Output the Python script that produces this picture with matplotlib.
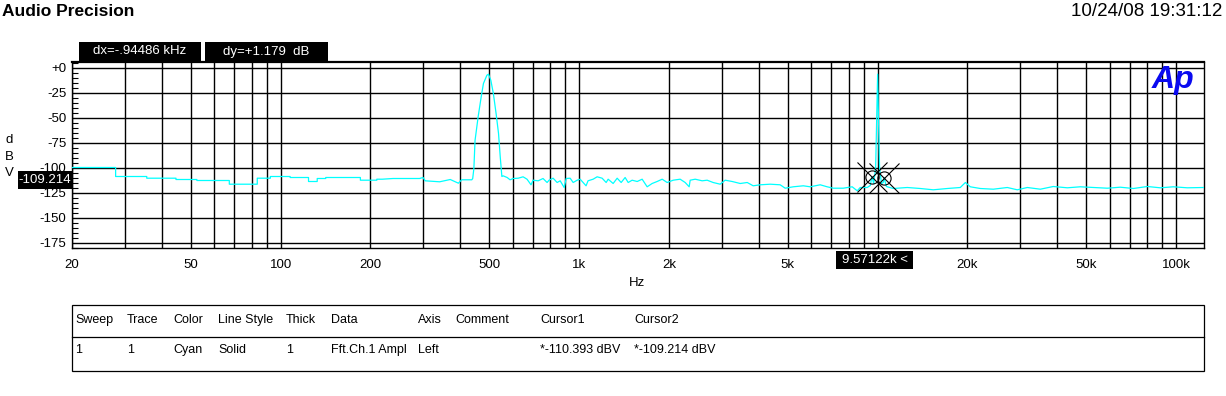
import matplotlib.pyplot as plt
from matplotlib.patches import Rectangle
from matplotlib.lines import Line2D
from matplotlib.ticker import FixedLocator, LogLocator, MultipleLocator, NullFormatter

# FFT trace (Hz, dBV)
freq_hz = [20, 28, 28, 35.6, 35.6, 44.6, 44.6, 52.4, 52.4, 67.3, 67.3, 83.5, 83.5,
           92.4, 92.4, 107.6, 107.6, 124, 124, 132.6, 132.6, 141.6, 141.6, 185, 185,
           210, 210, 219, 238, 292, 300, 305, 341, 370, 394, 404, 437,
           440, 444, 448, 459, 470, 478, 491, 497, 506, 516, 527, 537, 544, 551,
           556, 574, 587, 601, 625, 649, 669, 690, 701, 729, 757, 781, 793, 818, 844,
           864, 891, 905, 933, 955, 985, 1008, 1055, 1071, 1114, 1149, 1194, 1232,
           1251, 1300, 1341, 1383, 1426, 1460, 1505, 1565, 1626, 1690, 1756, 1825,
           1898, 1972, 2066, 2180, 2266, 2337, 2355, 2448, 2583, 2685, 2812, 2969,
           3085, 3257, 3464, 3657, 3829, 4042, 4366, 4716, 4901, 5216, 5636, 5944,
           6422, 6778, 7099, 7668, 8219, 8544, 8744, 9229, 9450, 9571.22, 9700,
           9850, 9950, 10000, 10050, 10150, 10300, 10440, 10516, 10700, 11280,
           12570, 13900, 15360, 17120, 18920, 19680, 20440, 22080, 24410, 27190,
           29370, 31730, 35080, 38780, 43200, 47750, 52800, 58800, 65000, 71900,
           80100, 88500, 97900, 109000, 124000]
level_dbv = [-100, -100, -109, -109, -110.7, -110.7, -112, -112, -113, -113, -116.7,
             -116.7, -110.7, -110.7, -109, -109, -110, -110, -114, -114, -111, -111,
             -110, -110, -112.7, -112.7, -111.7, -111.7, -111, -111, -110, -113.3,
             -114.3, -112, -115.7, -112.3, -112.3,
             -111, -101, -73, -49, -29, -16, -7.7, -6.7, -12.7, -26, -46, -66, -89, -109,
             -108.3, -110, -112.3, -111, -110.7, -109.3, -111.7, -117.3, -112.7, -113.3,
             -111, -115, -112.7, -110.7, -115, -113.3, -120, -111, -110.7, -115, -112.7,
             -111.7, -118.3, -113.3, -111.7, -109.3, -110.7, -115, -111.7, -116, -110.7,
             -115, -110, -115, -112.7, -114, -111.7, -119.3, -116, -114, -111.7, -115,
             -112.7, -111.7, -115, -119.3, -112.7, -111.7, -113.3, -112.7, -115, -116.7,
             -112.7, -114, -116, -115, -118.3, -117.3, -116.7, -117.3, -120.7, -119.3,
             -118.3, -119.3, -117.3, -119.3, -120.7, -120.7, -119.3, -123.3, -120,
             -120, -118, -109.214, -116, -100, -40, -6.7, -40, -100, -116, -115,
             -110.393, -119, -121, -120, -121, -122.3, -121, -120, -115, -119.3, -121,
             -121.7, -120, -122.3, -120, -121.7, -119, -120.3, -119.3, -120, -120.7,
             -119.7, -121, -119, -120.3, -119.3, -120.3, -120]

# cursors
cursor_hz = [10516, 9571.22]
cursor_dbv = [-110.393, -109.214]

x_ticks = [20, 50, 100, 200, 500, 1000, 2000, 5000, 20000, 50000, 100000]
x_labels = ['20', '50', '100', '200', '500', '1k', '2k', '5k', '20k', '50k', '100k']
y_ticks = [0, -25, -50, -75, -100, -125, -150, -175]
y_labels = ['+0', '-25', '-50', '-75', '-100', '-125', '-150', '-175']

table_cols = ['Sweep', 'Trace', 'Color', 'Line Style', 'Thick', 'Data', 'Axis',
              'Comment', 'Cursor1', 'Cursor2']
table_row = ['1', '1', 'Cyan', 'Solid', '1', 'Fft.Ch.1 Ampl', 'Left', '',
             '*-110.393 dBV', '*-109.214 dBV']
col_x = [75, 127, 173, 218, 286, 331, 418, 455, 540, 634]

W, H = 1226, 396
plt.rcParams['font.family'] = ['Liberation Sans', 'DejaVu Sans']


def fx(x):
    return x / W


def fy(y):
    return 1 - y / H


fig = plt.figure(figsize=(W / 100, H / 100), dpi=100)
ax = fig.add_axes([fx(72), fy(248), (1204 - 72) / W, (248 - 62) / H])

ax.plot(freq_hz, level_dbv, color='#00ffff', lw=0.9, zorder=3)
ax.plot(cursor_hz, cursor_dbv, ls='none', marker='o', ms=9.5, mfc='none',
        mec='black', mew=0.8, zorder=4)
ax.plot(cursor_hz, cursor_dbv, ls='none', marker='x', ms=21, mec='black',
        mew=0.8, zorder=4)

ax.set_xscale('log')
ax.set_xlim(20, 124000)
ax.set_ylim(-180.5, 5.5)
ax.xaxis.set_major_locator(FixedLocator(x_ticks))
ax.set_xticklabels(x_labels)
ax.xaxis.set_minor_locator(LogLocator(subs=range(1, 10), numticks=20))
ax.xaxis.set_minor_formatter(NullFormatter())
ax.set_yticks(y_ticks)
ax.set_yticklabels(y_labels)
ax.yaxis.set_minor_locator(MultipleLocator(5))
ax.grid(which='major', color='black', lw=1.0)
ax.grid(which='minor', axis='x', color='black', lw=1.0)
ax.tick_params(axis='x', which='both', length=0, pad=8, labelsize=9.5)
ax.tick_params(axis='y', which='major', length=0, pad=4, labelsize=9.5)
ax.tick_params(axis='y', which='minor', direction='in', length=4, width=0.8)
for s in ax.spines.values():
    s.set_color('black')
    s.set_linewidth(1.0)
ax.spines['top'].set_linewidth(1.6)

# Ap logo
ax.text(0.991, 0.985, 'Ap', transform=ax.transAxes, ha='right', va='top',
        color='#0a0af0', fontsize=23, fontweight='bold', style='italic', zorder=5)

# header
fig.text(fx(2), fy(11), 'Audio Precision', fontsize=12.5, fontweight='bold',
         va='center', ha='left')
fig.text(fx(1222), fy(11), '10/24/08 19:31:12', fontsize=13.5, va='center', ha='right')

# axis titles
for ch, yy in zip('dBV', [140, 157, 173]):
    fig.text(fx(9), fy(yy), ch, fontsize=9.5, ha='center', va='center')
fig.text(fx(637), fy(283), 'Hz', fontsize=9.5, ha='center', va='center')


def black_box(x0, x1, y0, y1, s):
    fig.add_artist(Rectangle((fx(x0), fy(y1)), (x1 - x0) / W, (y1 - y0) / H,
                             transform=fig.transFigure, facecolor='black',
                             edgecolor='none', zorder=5))
    fig.text(fx((x0 + x1) / 2), fy((y0 + y1) / 2), s, color='white', fontsize=9.5,
             ha='center', va='center', zorder=6)


black_box(79, 201, 42, 61, 'dx=-.94486 kHz')
black_box(205, 328, 42, 61, 'dy=+1.179  dB')
black_box(18, 72, 171, 189, '-109.214')
black_box(836, 913, 251, 269, '9.57122k <')

# legend table
fig.add_artist(Rectangle((fx(72), fy(371)), (1204 - 72) / W, (371 - 305) / H,
                         transform=fig.transFigure, facecolor='none',
                         edgecolor='black', lw=0.9))
fig.add_artist(Line2D([fx(72), fx(1204)], [fy(337), fy(337)],
                      transform=fig.transFigure, color='black', lw=0.9))
for xx, head, val in zip(col_x, table_cols, table_row):
    fig.text(fx(xx), fy(320), head, fontsize=9, ha='left', va='center')
    fig.text(fx(xx), fy(350), val, fontsize=9, ha='left', va='center')

fig.savefig('out.png', dpi=100)
